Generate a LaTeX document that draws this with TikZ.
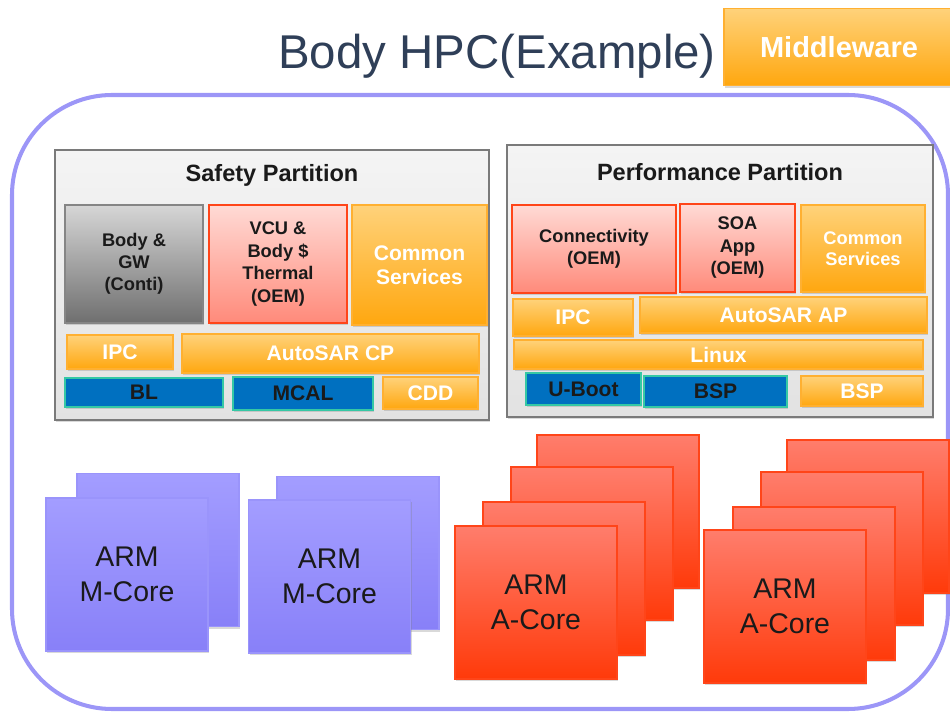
\documentclass[tikz,border=0pt]{standalone}
\usepackage{fontspec}
\setmainfont{Liberation Sans}
\usetikzlibrary{shadows}

\definecolor{titleblue}{HTML}{2F3F58}
\definecolor{framelilac}{HTML}{9C96F7}
\definecolor{orangetop}{HTML}{FFD27A}
\definecolor{orangebot}{HTML}{FFA70F}
\definecolor{orangeline}{HTML}{FFB031}
\definecolor{pinktop}{HTML}{FFDAD5}
\definecolor{pinkbot}{HTML}{FF8A7A}
\definecolor{redline}{HTML}{FF4519}
\definecolor{redtop}{HTML}{FF7D6C}
\definecolor{redbot}{HTML}{FF3A0A}
\definecolor{graytop}{HTML}{D6D6D6}
\definecolor{graybot}{HTML}{6F6F6F}
\definecolor{grayline}{HTML}{858585}
\definecolor{parttop}{HTML}{F4F4F4}
\definecolor{partbot}{HTML}{E2E2E2}
\definecolor{partline}{HTML}{7A7A7A}
\definecolor{mcalblue}{HTML}{0070C0}
\definecolor{mcalline}{HTML}{35C8A5}
\definecolor{violettop}{HTML}{A39DFF}
\definecolor{violetbot}{HTML}{8880F8}
\definecolor{violetline}{HTML}{9A94FB}
\definecolor{darktext}{HTML}{1A1A1A}

\begin{document}
\begin{tikzpicture}[x=0.02cm, y=-0.02cm,
					every node/.style={inner sep=0pt, outer sep=0pt, align=center},
					wh/.style 2 args={minimum width=#1*0.02cm, minimum height=#2*0.02cm},
					shade box/.style={draw, line width=1pt,
						drop shadow={shadow xshift=0.8pt, shadow yshift=-1.2pt, opacity=0.3}},
					part box/.style={shade box, draw=partline, top color=parttop, bottom color=partbot},
					part title/.style={text=darktext, font=\bfseries\fontsize{13.4}{16}\selectfont},
					orange box/.style={shade box, draw=orangeline, top color=orangetop, bottom color=orangebot,
						text=white, font=\bfseries\fontsize{12}{13.8}\selectfont},
					pink box/.style={shade box, draw=redline, top color=pinktop, bottom color=pinkbot,
						text=darktext, font=\bfseries\fontsize{10.4}{12.8}\selectfont},
					gray box/.style={shade box, draw=grayline, top color=graytop, bottom color=graybot,
						text=darktext, font=\bfseries\fontsize{10.4}{12.6}\selectfont},
					blue box/.style={shade box, draw=mcalline, fill=mcalblue,
						text=darktext, font=\bfseries\fontsize{12}{14}\selectfont},
					m core/.style={shade box, draw=violetline, top color=violettop, bottom color=violetbot,
						wh={162}{153}, text=darktext, font=\fontsize{16.2}{20}\selectfont},
					a core/.style={shade box, draw=redline, top color=redtop, bottom color=redbot,
						wh={162}{153}, text=darktext, font=\fontsize{16.2}{20}\selectfont}]

  \useasboundingbox (0,0) rectangle (950,712);

  % title and legend
  \node[text=titleblue, font=\fontsize{27}{32}\selectfont] (title) at (497,56) {Body HPC(Example)};
  \node[orange box, wh={230}{77}, font=\bfseries\fontsize{16.5}{19}\selectfont] (middleware) at (839,47) {Middleware};

  % HPC frame
  \draw[framelilac, line width=2.3pt, rounded corners=2cm] (12,95) rectangle (948,709);

  % safety partition
  \node[part box, wh={434}{270}] (safety) at (272,285) {};
  \node[part title] (safetytitle) at (272,175) {Safety Partition};
  \node[gray box, wh={138}{118}] (bodygw) at (134,264) {Body \&\\GW\\(Conti)};
  \node[pink box, wh={138}{118}] (vcu) at (278,264) {VCU \&\\Body \$\\Thermal\\(OEM)};
  \node[orange box, wh={135}{120}] (commonS) at (419.5,265) {Common\\Services};
  \node[orange box, wh={106}{34}] (ipcS) at (120,352) {IPC};
  \node[orange box, wh={297}{39}] (autosarcp) at (330.5,353.5) {AutoSAR CP};
  \node[blue box, wh={158}{29}] (bl) at (144,392.5) {BL};
  \node[blue box, wh={140}{33}] (mcal) at (303,393.5) {MCAL};
  \node[orange box, wh={95}{32}] (cdd) at (430.5,393) {CDD};

  % performance partition
  \node[part box, wh={426}{272}] (perf) at (720,281) {};
  \node[part title] (perftitle) at (720,172) {Performance Partition};
  \node[pink box, wh={164}{88}] (conn) at (594,249) {Connectivity\\(OEM)};
  \node[pink box, wh={115}{88}] (soa) at (737.5,248) {SOA\\App\\(OEM)};
  \node[orange box, wh={124}{87}, font=\bfseries\fontsize{10.4}{12}\selectfont] (commonP) at (863,248.5) {Common\\Services};
  \node[orange box, wh={120}{37}] (ipcP) at (573,317.5) {IPC};
  \node[orange box, wh={287}{36}] (autosarap) at (783.5,315) {AutoSAR AP};
  \node[orange box, wh={409}{29}] (linux) at (718.5,354.5) {Linux};
  \node[blue box, wh={115}{32}] (uboot) at (583.5,389) {U-Boot};
  \node[blue box, wh={143}{31}] (bspB) at (715.5,391.5) {BSP};
  \node[orange box, wh={122}{30}] (bspO) at (862,391) {BSP};

  % M-cores
  \node[m core] (mcoreAback) at (158,550) {};
  \node[m core] (mcoreA) at (127,574.5) {ARM\\M-Core};
  \node[m core] (mcoreBback) at (358,553) {};
  \node[m core] (mcoreB) at (329.5,576.5) {ARM\\M-Core};

  % A-cores
  \foreach \cx/\cy [count=\i] in {618/511.5, 592/543.5, 564/578.5}
    \node[a core] (acoreAback\i) at (\cx,\cy) {};
  \node[a core] (acoreA) at (536,602.5) {ARM\\A-Core};
  \foreach \cx/\cy [count=\i] in {868/516.5, 842/548.5, 814/583.5}
    \node[a core] (acoreBback\i) at (\cx,\cy) {};
  \node[a core] (acoreB) at (785,606.5) {ARM\\A-Core};
\end{tikzpicture}
\end{document}
